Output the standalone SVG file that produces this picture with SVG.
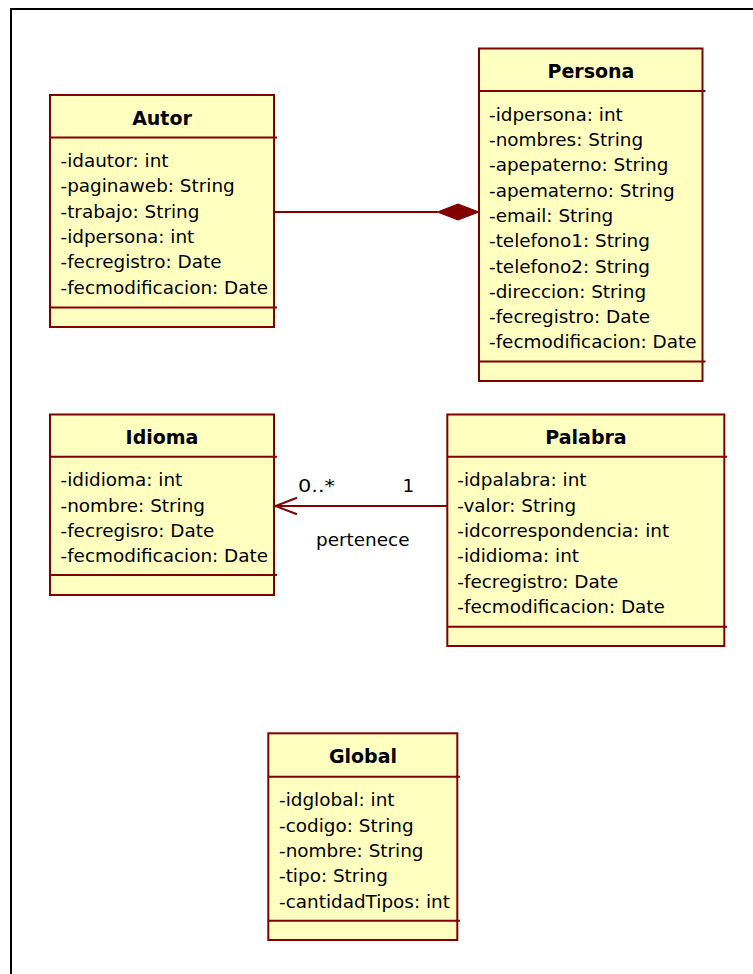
<svg xmlns="http://www.w3.org/2000/svg" width="753" height="974" viewBox="0 0 753 974">
<style>
.box{fill:#FFFFC0;stroke:#800000;stroke-width:2}
.div{stroke:#800000;stroke-width:2;fill:none}
.title{font-family:"DejaVu Sans",Verdana,sans-serif;font-size:19px;font-weight:bold;text-anchor:middle;fill:#000}
.attr{font-family:"DejaVu Sans",Verdana,sans-serif;font-size:18.4px;fill:#000}
.lbl{font-family:"DejaVu Sans",Verdana,sans-serif;font-size:18.4px;fill:#000}
.conn{stroke:#800000;stroke-width:2;fill:none}
</style>
<rect x="0" y="0" width="753" height="974" fill="#fff"/>
<rect x="11" y="9" width="770" height="990" fill="none" stroke="#000" stroke-width="2"/>

<g id="Autor">
<rect class="box" x="50" y="95" width="224" height="232"/>
<line class="div" x1="50" y1="137.5" x2="277" y2="137.5"/>
<line class="div" x1="50" y1="307.5" x2="277" y2="307.5"/>
<text class="title" x="162" y="125">Autor</text>
<text class="attr" x="60.5" y="167">-idautor: int</text>
<text class="attr" x="60.5" y="192.3">-paginaweb: String</text>
<text class="attr" x="60.5" y="217.6">-trabajo: String</text>
<text class="attr" x="60.5" y="242.9">-idpersona: int</text>
<text class="attr" x="60.5" y="268.2">-fecregistro: Date</text>
<text class="attr" x="60.5" y="293.5">-fecmodificacion: Date</text>
</g>

<g id="Persona">
<rect class="box" x="479" y="48.5" width="223.5" height="332.5"/>
<line class="div" x1="479" y1="91" x2="705.5" y2="91"/>
<line class="div" x1="479" y1="361.5" x2="705.5" y2="361.5"/>
<text class="title" x="591" y="78">Persona</text>
<text class="attr" x="489" y="120.7">-idpersona: int</text>
<text class="attr" x="489" y="146">-nombres: String</text>
<text class="attr" x="489" y="171.3">-apepaterno: String</text>
<text class="attr" x="489" y="196.6">-apematerno: String</text>
<text class="attr" x="489" y="221.9">-email: String</text>
<text class="attr" x="489" y="247.2">-telefono1: String</text>
<text class="attr" x="489" y="272.5">-telefono2: String</text>
<text class="attr" x="489" y="297.8">-direccion: String</text>
<text class="attr" x="489" y="323.1">-fecregistro: Date</text>
<text class="attr" x="489" y="348.4">-fecmodificacion: Date</text>
</g>

<g id="Idioma">
<rect class="box" x="50" y="414.5" width="224" height="180.5"/>
<line class="div" x1="50" y1="456.7" x2="277" y2="456.7"/>
<line class="div" x1="50" y1="575" x2="277" y2="575"/>
<text class="title" x="162" y="444">Idioma</text>
<text class="attr" x="60.5" y="486.4">-ididioma: int</text>
<text class="attr" x="60.5" y="511.7">-nombre: String</text>
<text class="attr" x="60.5" y="537">-fecregisro: Date</text>
<text class="attr" x="60.5" y="562.3">-fecmodificacion: Date</text>
</g>

<g id="Palabra">
<rect class="box" x="447.3" y="414.5" width="277" height="231.5"/>
<line class="div" x1="447.3" y1="456.7" x2="727" y2="456.7"/>
<line class="div" x1="447.3" y1="626.7" x2="727" y2="626.7"/>
<text class="title" x="586" y="444">Palabra</text>
<text class="attr" x="457.3" y="486.4">-idpalabra: int</text>
<text class="attr" x="457.3" y="511.7">-valor: String</text>
<text class="attr" x="457.3" y="537">-idcorrespondencia: int</text>
<text class="attr" x="457.3" y="562.3">-ididioma: int</text>
<text class="attr" x="457.3" y="587.6">-fecregistro: Date</text>
<text class="attr" x="457.3" y="612.9">-fecmodificacion: Date</text>
</g>

<g id="Global">
<rect class="box" x="268.3" y="733.3" width="189" height="206.7"/>
<line class="div" x1="268.3" y1="776.7" x2="460" y2="776.7"/>
<line class="div" x1="268.3" y1="920.7" x2="460" y2="920.7"/>
<text class="title" x="363" y="763">Global</text>
<text class="attr" x="279" y="806.4">-idglobal: int</text>
<text class="attr" x="279" y="831.7">-codigo: String</text>
<text class="attr" x="279" y="857">-nombre: String</text>
<text class="attr" x="279" y="882.3">-tipo: String</text>
<text class="attr" x="279" y="907.6">-cantidadTipos: int</text>
</g>

<g id="connectors">
<line class="conn" x1="275" y1="212" x2="437.5" y2="212"/>
<polygon points="437.3,212 458,204 479,212 458,220" fill="#800000" stroke="#800000" stroke-width="1"/>
<line class="conn" x1="275.5" y1="506" x2="447" y2="506"/>
<polyline class="conn" points="297,497.7 275.5,506 297,514.3"/>
<text class="lbl" x="298" y="491.7" textLength="37" lengthAdjust="spacingAndGlyphs">0..*</text>
<text class="lbl" x="402.5" y="491.7">1</text>
<text class="lbl" x="316" y="545.7">pertenece</text>
</g>
</svg>
